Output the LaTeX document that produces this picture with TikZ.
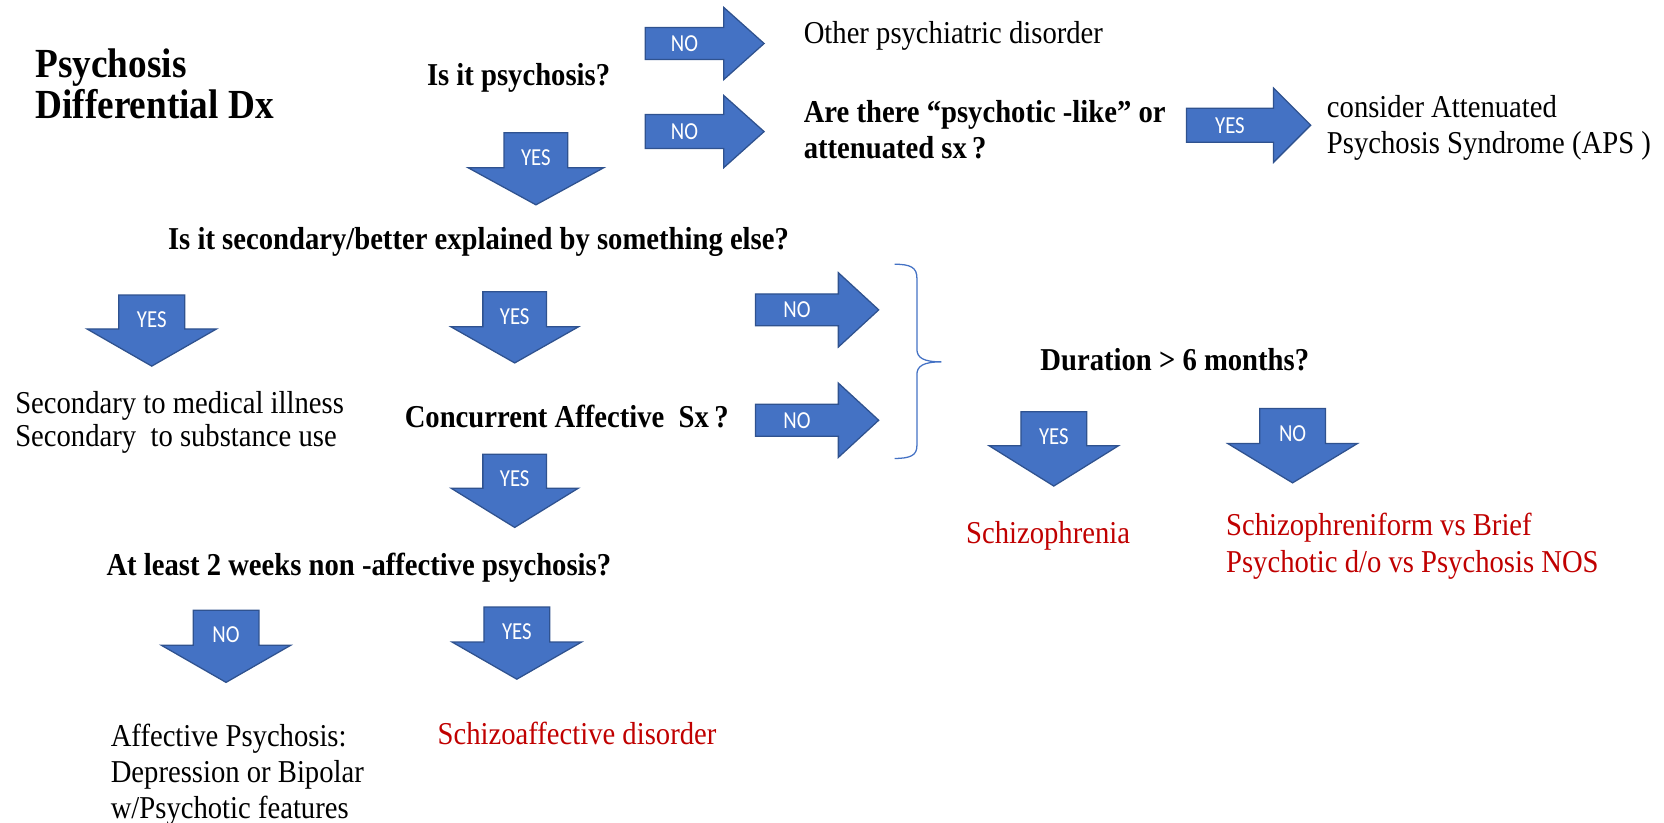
\documentclass[tikz,border=0pt]{standalone}
\usepackage{fontspec}
\setmainfont{Liberation Serif}[FakeStretch=0.9]
\newfontfamily\lblfont{Carlito}[FakeStretch=0.85]
\definecolor{arrowfill}{HTML}{4472C4}
\definecolor{arrowline}{HTML}{2F528F}
\definecolor{dxred}{HTML}{C00000}
\tikzset{
  blk/.style={fill=arrowfill, draw=arrowline, line width=0.6pt, line join=miter},
  brc/.style={draw=arrowfill, line width=0.6pt},
  lbl/.style={font=\lblfont\fontsize{11.5}{12}\selectfont, text=white, inner sep=0pt},
  qst/.style={font=\bfseries\fontsize{15}{17}\selectfont, anchor=base west, inner sep=0pt, align=left},
  txt/.style={font=\fontsize{15}{17}\selectfont, anchor=base west, inner sep=0pt, align=left},
  res/.style={txt, text=dxred},
  ttl/.style={font=\bfseries\fontsize{19.5}{19.5}\selectfont, anchor=base west, inner sep=0pt, align=left},
}
% right block arrow: name, x tail, x head base, x tip, y mid, body half, head half, label
\newcommand\RArr[8]{%
  \draw[blk] (#2,#5-#6) -- (#3,#5-#6) -- (#3,#5-#7) -- (#4,#5) -- (#3,#5+#7) -- (#3,#5+#6) -- (#2,#5+#6) -- cycle;
  \node[lbl] (#1) at ({(#2+#3)/2},#5) {#8};}
% down block arrow: name, x mid, body half, head half, y top, y head base, y tip, label
\newcommand\DArr[8]{%
  \draw[blk] (#2-#3,#5) -- (#2+#3,#5) -- (#2+#3,#6) -- (#2+#4,#6) -- (#2,#7) -- (#2-#4,#6) -- (#2-#3,#6) -- cycle;
  \node[lbl] (#1) at (#2,{(#5+#6)/2+7}) {#8};}
\begin{document}
\begin{tikzpicture}[x=0.5pt,y=-0.5pt]
\useasboundingbox (0,0) rectangle (1568,775);
% title (base anchor = last line)
\node[ttl] (title) at (33,112) {Psychosis\\Differential Dx};
% top section
\node[qst] (q1) at (402,81) {Is it psychosis?};
\RArr{noA}{608}{682}{720}{41}{15}{34}{NO}
\node[txt] (other) at (757,41) {Other psychiatric disorder};
\RArr{noB}{608}{682}{720}{124}{16}{34}{NO}
\node[qst] (q2) at (757,149) {Are there “psychotic -like” or\\attenuated sx\,?};
\RArr{yesC}{1118}{1200}{1235}{118}{16}{35}{YES}
\node[txt] (aps) at (1250,145) {consider Attenuated\\Psychosis Syndrome (APS\ )};
\DArr{yesD}{505}{30}{64}{125}{158}{193}{YES}
% secondary
\node[qst] (q3) at (158,235) {Is it secondary/better explained by something else?};
\DArr{yesE}{143}{31}{61}{278}{310}{345}{YES}
\DArr{yesF}{485}{30}{60}{275}{308}{342}{YES}
\RArr{noG}{712}{790}{828}{292}{15}{35}{NO}
\RArr{noH}{712}{790}{828}{396}{15}{35}{NO}
\node[font=\fontsize{15}{15.5}\selectfont, anchor=base west, inner sep=0pt, align=left] (sec) at (14,421) {Secondary to medical illness\\Secondary\ \ to substance use};
\node[qst] (q4) at (381,403) {Concurrent Affective\ \ Sx\,?};
% brace
\draw[brc] (843,249) .. controls (858,249) and (864,252) .. (864,262) -- (864,329)
  .. controls (864,337) and (870,341) .. (887,341)
  .. controls (870,341) and (864,345) .. (864,353) -- (864,420)
  .. controls (864,429) and (858,432) .. (843,432);
% duration
\node[qst] (q5) at (980,349) {Duration > 6 months?};
\DArr{yesI}{993}{31}{61}{388}{420}{458}{YES}
\DArr{noJ}{1218}{31}{61}{385}{418}{455}{NO}
\node[res] (schiz) at (910,512) {Schizophrenia};
\node[res] (sform) at (1155,539) {Schizophreniform vs Brief\\Psychotic d/o vs Psychosis NOS};
% affective
\DArr{yesK}{485}{30}{60}{428}{460}{497}{YES}
\node[qst] (q6) at (100,542) {At least 2 weeks non -affective psychosis?};
\DArr{noL}{213}{31}{61}{575}{608}{643}{NO}
\DArr{yesM}{487}{31}{61}{572}{605}{640}{YES}
\node[font=\fontsize{15}{16.8}\selectfont, anchor=base west, inner sep=0pt, align=left] (aff) at (104,771) {Affective Psychosis:\\Depression or Bipolar\\w/Psychotic features};
\node[res] (schaff) at (412,702) {Schizoaffective disorder};
\end{tikzpicture}
\end{document}
